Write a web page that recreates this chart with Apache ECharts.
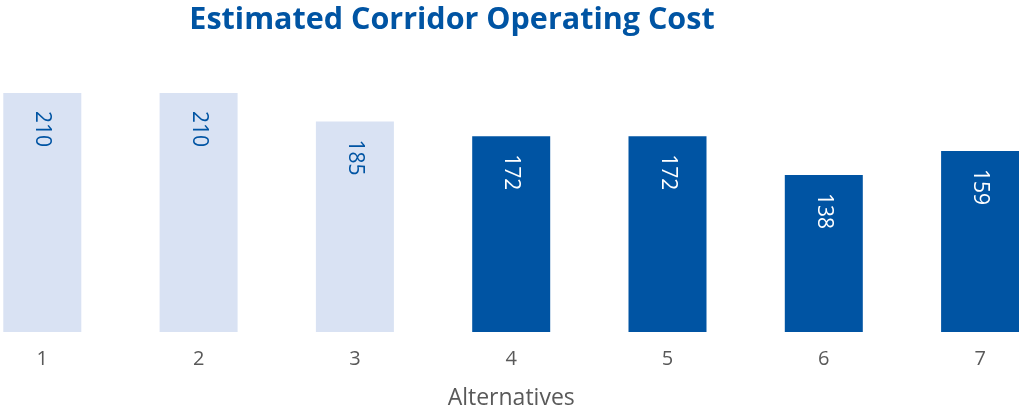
<!DOCTYPE html>
<html>
<head>
<meta charset="utf-8">
<script src="https://cdn.jsdelivr.net/npm/echarts@6/dist/echarts.min.js"></script>
<style>html,body{margin:0;padding:0;background:#fff;}#chart{width:1019px;height:410px;}</style>
</head>
<body>
<div id="chart"></div>
<script>
const categories = ['1', '2', '3', '4', '5', '6', '7'];
const costValues = [210, 210, 185, 172, 172, 138, 159];
const highlighted = [false, false, false, true, true, true, true];
const titleText = 'Estimated Corridor Operating Cost';
const axisName = 'Alternatives';

const DARK = '#0054A3';
const LIGHT = '#D9E2F3';
const FONT = "'Open Sans', 'Noto Sans', sans-serif";

const chart = echarts.init(document.getElementById('chart'));
chart.setOption({
  animation: false,
  backgroundColor: '#ffffff',
  title: {
    text: titleText,
    left: 447,
    top: 0,
    textAlign: 'center',
    textStyle: { color: DARK, fontFamily: FONT, fontWeight: 'bold', fontSize: 30.5 }
  },
  grid: { left: 42.3, right: 38.9, top: 47.4, bottom: 78, containLabel: false, outerBoundsMode: 'none' },
  xAxis: {
    type: 'category',
    data: categories,
    boundaryGap: false,
    axisLine: { show: false },
    axisTick: { show: false },
    axisLabel: { color: '#595959', fontFamily: FONT, fontSize: 20, margin: 17 },
    name: axisName,
    nameLocation: 'middle',
    nameGap: 55,
    nameTextStyle: { color: '#595959', fontFamily: FONT, fontSize: 23 }
  },
  yAxis: {
    type: 'value', min: 0, max: 250, show: false,
    splitLine: { show: false }
  },
  series: [{
    type: 'bar',
    barWidth: 78,
    clip: false,
    data: costValues.map((v, i) => ({
      value: v,
      itemStyle: { color: highlighted[i] ? DARK : LIGHT },
      label: { color: highlighted[i] ? '#ffffff' : DARK }
    })),
    label: {
      show: true,
      position: 'insideTop',
      rotate: -90,
      align: 'left',
      verticalAlign: 'middle',
      distance: 18,
      fontFamily: FONT,
      fontSize: 21
    }
  }]
});
</script>
</body>
</html>
